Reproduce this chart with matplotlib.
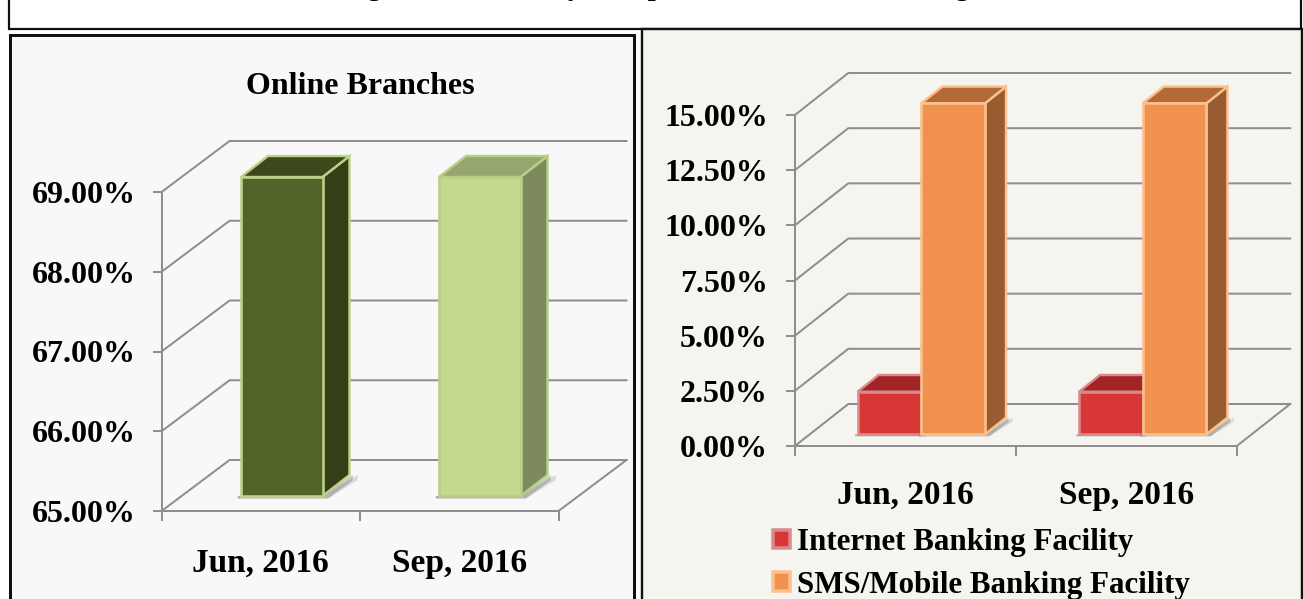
import matplotlib
matplotlib.use('Agg')
import matplotlib.pyplot as plt
from matplotlib.patches import Polygon, Patch, Rectangle
from matplotlib.ticker import FixedLocator, NullFormatter

W, H = 1303, 599
plt.rcParams['font.family'] = ['Liberation Serif', 'DejaVu Serif']
plt.rcParams['font.weight'] = 'bold'

title_text = 'Figure 5: Quarterly Comparison of Online Banking'
quarters = ['Jun, 2016', 'Sep, 2016']

online_title = 'Online Branches'
online_values = [69.0, 69.0]
online_ticks = [65, 66, 67, 68, 69]
online_labels = ['65.00%', '66.00%', '67.00%', '68.00%', '69.00%']

internet_name = 'Internet Banking Facility'
sms_name = 'SMS/Mobile Banking Facility'
internet_values = [1.93, 1.93]
sms_values = [15.0, 15.0]
share_ticks = [0, 2.5, 5, 7.5, 10, 12.5, 15]
share_labels = ['0.00%', '2.50%', '5.00%', '7.50%', '10.00%', '12.50%', '15.00%']

GRID = '#8e8e8e'


def px(n):
    # pixels to points, figure is at dpi 100
    return n * 0.72


def make_axes(fig, x0, x1, ytop, ybot, ylim):
    ax = fig.add_axes([x0 / W, 1 - ybot / H, (x1 - x0) / W, (ybot - ytop) / H])
    ax.set_xlim(0, 2)
    ax.set_ylim(*ylim)
    ax.patch.set_visible(False)
    for s in ['top', 'right']:
        ax.spines[s].set_visible(False)
    for s in ['left', 'bottom']:
        ax.spines[s].set_color(GRID)
        ax.spines[s].set_linewidth(px(2))
    return ax


def style_ticks(ax, yticks, ylabels, xpad, ypad):
    ax.set_yticks(yticks)
    ax.set_yticklabels(ylabels, fontsize=23, fontweight='bold', va='center_baseline')
    ax.set_xticks([0, 1, 2])
    ax.xaxis.set_major_formatter(NullFormatter())
    ax.xaxis.set_minor_locator(FixedLocator([0.5, 1.5]))
    ax.set_xticklabels(quarters, minor=True, fontsize=24, fontweight='bold', va='baseline')
    ax.tick_params(axis='y', length=px(9), width=px(2), color=GRID, pad=px(ypad))
    ax.tick_params(axis='x', which='major', length=px(10), width=px(2), color=GRID)
    ax.tick_params(axis='x', which='minor', length=0, pad=px(xpad))


def draw_walls(ax, yticks, dx, dy):
    # dx, dy = depth of the floor in data units
    for t in yticks:
        ax.plot([0, dx, 2 + dx], [t, t + dy, t + dy], color=GRID, lw=px(2),
                clip_on=False, zorder=1, solid_joinstyle='miter')
    base = yticks[0]
    ax.plot([2, 2 + dx], [base, base + dy], color=GRID, lw=px(2), clip_on=False, zorder=1)


def draw_bar(ax, left, width, base, value, sx, sy, front, side, top, edge, z):
    # sx, sy = depth of the bar itself in data units
    right = left + width
    for grow, alpha in [(1.3, 0.2), (1.12, 0.35)]:
        ax.add_patch(Polygon([(right, base), (right + sx * grow, base + sy),
                              (right + sx * grow, base + sy * 0.75), (right + sx * 0.2, base - sy * 0.12),
                              (left - sx * 0.12, base - sy * 0.12), (left - sx * 0.12, base)],
                             closed=True, fc='#666666', ec='none', alpha=alpha, clip_on=False, zorder=z))
    ax.add_patch(Polygon([(right, base), (right + sx, base + sy), (right + sx, value + sy), (right, value)],
                         closed=True, fc=side, ec=edge, lw=px(2.4), clip_on=False, zorder=z))
    ax.add_patch(Polygon([(left, value), (left + sx, value + sy), (right + sx, value + sy), (right, value)],
                         closed=True, fc=top, ec=edge, lw=px(2.4), clip_on=False, zorder=z))
    return ax.bar(left, value - base, width=width, bottom=base, align='edge',
                  color=front, edgecolor=edge, linewidth=px(2.6), clip_on=False, zorder=z + 0.1)


fig = plt.figure(figsize=(W / 100, H / 100), dpi=100, facecolor='white')

# page frames, in pixels
page = fig.add_axes([0, 0, 1, 1])
page.set_xlim(0, W)
page.set_ylim(H, 0)
page.axis('off')
page.add_patch(Rectangle((9, -5), 1292, 34, fc='white', ec='#111111', lw=px(2.2)))
page.add_patch(Rectangle((10, 35), 624, 600, fc='#f8f8f8', ec='#111111', lw=px(3)))
page.add_patch(Rectangle((641.5, 29), 660, 600, fc='#f5f4ef', ec='#111111', lw=px(2.4)))
page.text(656, -5, title_text, ha='center', va='baseline', fontsize=20.5, fontweight='bold', color='black')

# left chart
ax1 = make_axes(fig, 161.6, 558.5, 192, 511, (65, 69))
ax1_px = 2 / (558.5 - 161.6)
ax1_py = 4 / (511 - 192)
draw_walls(ax1, online_ticks, 68 * ax1_px, 51 * ax1_py)
style_ticks(ax1, online_ticks, online_labels, 61, 16.5)
floor1 = 15 * ax1_py
lefts1 = [(241 - 161.6) * ax1_px, (439 - 161.6) * ax1_px]
w1 = 81.5 * ax1_px
colors1 = [('#53642a', '#343f18', '#3d481c', '#bcd28a'), ('#c3d990', '#7c8a5c', '#96a670', '#b9cf86')]
for i in range(2):
    draw_bar(ax1, lefts1[i], w1, 65 + floor1, online_values[i] + floor1, 27 * ax1_px, 21 * ax1_py,
             *colors1[i], z=3 + i)
page.text(360.5, 86, online_title, ha='center', va='center', fontsize=23, fontweight='bold', color='black')

# right chart
ax2 = make_axes(fig, 794.9, 1236.8, 115, 446, (0, 15))
ax2_px = 2 / (1236.8 - 794.9)
ax2_py = 15 / (446 - 115)
draw_walls(ax2, share_ticks, 53.4 * ax2_px, 42 * ax2_py)
style_ticks(ax2, share_ticks, share_labels, 58, 18)
floor2 = 11.7 * ax2_py
lefts2 = [(857.6 - 794.9) * ax2_px, (1079 - 794.9) * ax2_px]
w2 = 63.7 * ax2_px
for i in range(2):
    draw_bar(ax2, lefts2[i], w2, floor2, internet_values[i] + floor2, 21 * ax2_px, 16.7 * ax2_py,
             '#d93636', '#a22525', '#a22525', '#d98a8f', z=3 + i * 2)
    draw_bar(ax2, lefts2[i] + w2, w2, floor2, sms_values[i] + floor2, 21 * ax2_px, 16.7 * ax2_py,
             '#f0914e', '#995c30', '#b46a36', '#fbc08e', z=4 + i * 2)

handles = [Patch(fc='#d93636', ec='#d98a8f', lw=px(3.5)), Patch(fc='#f0914e', ec='#fbc08e', lw=px(3.5))]
leg = ax2.legend(handles, [internet_name, sms_name], loc='upper left', frameon=False,
                 bbox_to_anchor=(773 / W, 1 - 528 / H), bbox_transform=fig.transFigure,
                 prop={'size': 22.3, 'weight': 'bold'}, handlelength=0.55, handleheight=0.55, handletextpad=0.22,
                 labelspacing=0.44, borderpad=0, borderaxespad=0)

fig.savefig('out.png', dpi=100)
